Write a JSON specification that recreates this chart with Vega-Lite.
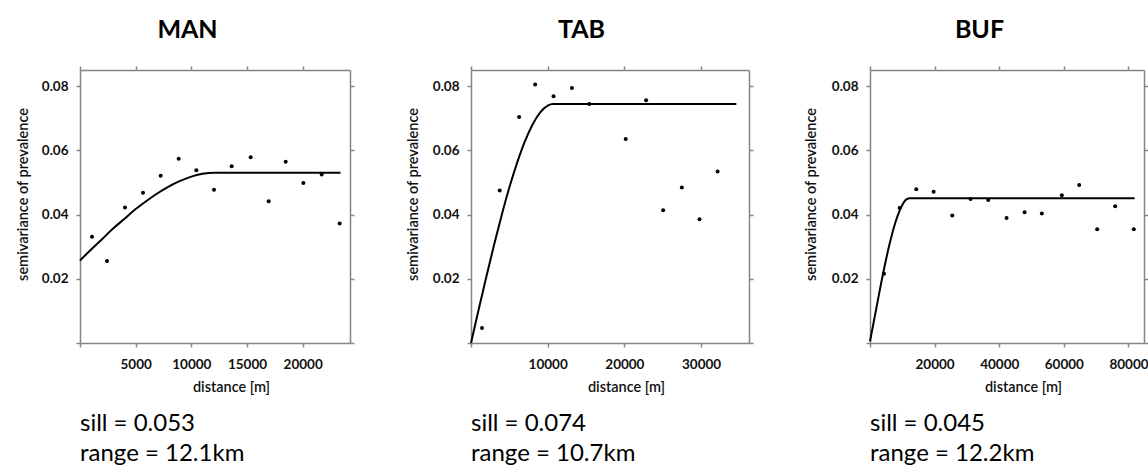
{
  "$schema": "https://vega.github.io/schema/vega-lite/v6.json",
  "padding": {"left": 14, "top": 17, "right": 0, "bottom": 0},
  "background": "white",
  "spacing": 121,
  "bounds": "flush",
  "config": {
    "view": {"stroke": null},
    "font": "Lato",
    "axis": {
      "domainColor": "#858585", "domainWidth": 1.5,
      "tickColor": "#858585", "tickWidth": 1.5, "tickSize": 4,
      "grid": false,
      "labelFont": "Lato", "labelFontSize": 13.5, "labelFontWeight": "bold", "labelColor": "#111",
      "titleFont": "Lato", "titleFontSize": 14.5, "titleFontWeight": 600, "titleColor": "#111"
    }
  },
  "datasets": {
    "man_pts": [
      {"d": 1078, "g": 0.0331}, {"d": 2425, "g": 0.0255}, {"d": 4042, "g": 0.0422},
      {"d": 5659, "g": 0.0468}, {"d": 7246, "g": 0.0521}, {"d": 8862, "g": 0.0574},
      {"d": 10449, "g": 0.0538}, {"d": 12036, "g": 0.0477}, {"d": 13623, "g": 0.055},
      {"d": 15329, "g": 0.0578}, {"d": 16946, "g": 0.0441}, {"d": 18473, "g": 0.0564},
      {"d": 20060, "g": 0.0498}, {"d": 21707, "g": 0.0525}, {"d": 23323, "g": 0.0372}
    ],
    "man_fit": [
      {"d": 0, "g": 0.0257}, {"d": 1000, "g": 0.0291}, {"d": 2000, "g": 0.0324},
      {"d": 3000, "g": 0.0357}, {"d": 4000, "g": 0.0387}, {"d": 5000, "g": 0.0417},
      {"d": 6000, "g": 0.0443}, {"d": 7000, "g": 0.0467}, {"d": 8000, "g": 0.0488},
      {"d": 9000, "g": 0.0505}, {"d": 10000, "g": 0.0518}, {"d": 11000, "g": 0.0527},
      {"d": 12100, "g": 0.053}, {"d": 23400, "g": 0.053}
    ],
    "tab_pts": [
      {"d": 1438, "g": 0.0047}, {"d": 3747, "g": 0.0475}, {"d": 6275, "g": 0.0704},
      {"d": 8366, "g": 0.0805}, {"d": 10763, "g": 0.0768}, {"d": 13159, "g": 0.0794},
      {"d": 15425, "g": 0.0744}, {"d": 20174, "g": 0.0635}, {"d": 22832, "g": 0.0756},
      {"d": 25054, "g": 0.0413}, {"d": 27495, "g": 0.0484}, {"d": 29804, "g": 0.0385},
      {"d": 32157, "g": 0.0534}
    ],
    "tab_fit": [
      {"d": 0, "g": 0}, {"d": 1000, "g": 0.0104}, {"d": 2000, "g": 0.0206},
      {"d": 3000, "g": 0.0305}, {"d": 4000, "g": 0.0398}, {"d": 5000, "g": 0.0484},
      {"d": 6000, "g": 0.056}, {"d": 7000, "g": 0.0626}, {"d": 8000, "g": 0.0679},
      {"d": 9000, "g": 0.0717}, {"d": 10000, "g": 0.0739}, {"d": 10700, "g": 0.0744},
      {"d": 34600, "g": 0.0744}
    ],
    "buf_pts": [
      {"d": 4330, "g": 0.0216}, {"d": 9175, "g": 0.042}, {"d": 14330, "g": 0.0479},
      {"d": 19690, "g": 0.0471}, {"d": 25460, "g": 0.0397}, {"d": 31130, "g": 0.0448},
      {"d": 36600, "g": 0.0445}, {"d": 42270, "g": 0.0389}, {"d": 47830, "g": 0.0407},
      {"d": 53190, "g": 0.0403}, {"d": 59380, "g": 0.046}, {"d": 64740, "g": 0.0492},
      {"d": 70310, "g": 0.0354}, {"d": 75880, "g": 0.0426}, {"d": 81650, "g": 0.0354}
    ],
    "buf_fit": [
      {"d": 0, "g": 0.0005}, {"d": 2000, "g": 0.011}, {"d": 4000, "g": 0.0214},
      {"d": 6000, "g": 0.0306}, {"d": 8000, "g": 0.038}, {"d": 10000, "g": 0.043},
      {"d": 11000, "g": 0.0445}, {"d": 12200, "g": 0.0451}, {"d": 81900, "g": 0.0451}
    ]
  },
  "hconcat": [
    {
      "width": 270, "height": 273,
      "title": {"text": ["sill = 0.053", "range = 12.1km"], "orient": "bottom", "anchor": "start", "frame": "group", "font": "Lato", "fontSize": 24, "fontWeight": "normal", "baseline": "top", "lineHeight": 30, "offset": 18, "color": "black"},
      "layer": [
        {
          "data": {"name": "man_pts"},
          "mark": {"type": "point", "filled": true, "size": 16, "color": "black", "opacity": 1},
          "encoding": {
            "x": {"field": "d", "type": "quantitative", "scale": {"domain": [0, 24250], "nice": false, "zero": false},
              "axis": {"orient": "bottom", "values": [0, 5000, 10000, 15000, 20000], "format": "d", "labelExpr": "datum.value == 0 ? '' : datum.label", "labelPadding": 10, "title": "distance [m]", "titleX": 151, "titleY": 48, "titleBaseline": "alphabetic", "titleAlign": "center"}},
            "y": {"field": "g", "type": "quantitative", "scale": {"domain": [0, 0.085], "nice": false, "zero": false},
              "axis": {"orient": "left", "values": [0, 0.02, 0.04, 0.06, 0.08], "format": ".2f", "labelExpr": "datum.value == 0 ? '' : datum.label", "labelPadding": 8, "title": "semivariance of prevalence", "titleX": -57, "titleY": 124, "titleAngle": -90, "titleBaseline": "middle", "titleAlign": "center"}}
          }
        },
        {
          "data": {"name": "man_fit"},
          "mark": {"type": "line", "color": "black", "strokeWidth": 2, "interpolate": "monotone"},
          "encoding": {
            "x": {"field": "d", "type": "quantitative", "scale": {"domain": [0, 24250], "nice": false, "zero": false},
              "axis": {"orient": "top", "values": [0, 5000, 10000, 15000, 20000], "labels": false, "title": "MAN", "titleFontSize": 25, "titleFontWeight": "bold", "titleColor": "black", "titleX": 107, "titleY": -33, "titleBaseline": "alphabetic", "titleAlign": "center"}},
            "y": {"field": "g", "type": "quantitative", "scale": {"domain": [0, 0.085], "nice": false, "zero": false},
              "axis": {"orient": "right", "values": [0, 0.02, 0.04, 0.06, 0.08], "labels": false, "title": null}}
          }
        }
      ]
    },
    {
      "width": 278, "height": 273,
      "title": {"text": ["sill = 0.074", "range = 10.7km"], "orient": "bottom", "anchor": "start", "frame": "group", "font": "Lato", "fontSize": 24, "fontWeight": "normal", "baseline": "top", "lineHeight": 30, "offset": 18, "color": "black"},
      "layer": [
        {
          "data": {"name": "tab_pts"},
          "mark": {"type": "point", "filled": true, "size": 16, "color": "black", "opacity": 1},
          "encoding": {
            "x": {"field": "d", "type": "quantitative", "scale": {"domain": [0, 36250], "nice": false, "zero": false},
              "axis": {"orient": "bottom", "values": [0, 10000, 20000, 30000], "format": "d", "labelExpr": "datum.value == 0 ? '' : datum.label", "labelPadding": 10, "title": "distance [m]", "titleX": 155, "titleY": 48, "titleBaseline": "alphabetic", "titleAlign": "center"}},
            "y": {"field": "g", "type": "quantitative", "scale": {"domain": [0, 0.085], "nice": false, "zero": false},
              "axis": {"orient": "left", "values": [0, 0.02, 0.04, 0.06, 0.08], "format": ".2f", "labelExpr": "datum.value == 0 ? '' : datum.label", "labelPadding": 8, "title": "semivariance of prevalence", "titleX": -58, "titleY": 124, "titleAngle": -90, "titleBaseline": "middle", "titleAlign": "center"}}
          }
        },
        {
          "data": {"name": "tab_fit"},
          "mark": {"type": "line", "color": "black", "strokeWidth": 2, "interpolate": "monotone"},
          "encoding": {
            "x": {"field": "d", "type": "quantitative", "scale": {"domain": [0, 36250], "nice": false, "zero": false},
              "axis": {"orient": "top", "values": [0, 10000, 20000, 30000], "labels": false, "title": "TAB", "titleFontSize": 25, "titleFontWeight": "bold", "titleColor": "black", "titleX": 110, "titleY": -33, "titleBaseline": "alphabetic", "titleAlign": "center"}},
            "y": {"field": "g", "type": "quantitative", "scale": {"domain": [0, 0.085], "nice": false, "zero": false},
              "axis": {"orient": "right", "values": [0, 0.02, 0.04, 0.06, 0.08], "labels": false, "title": null}}
          }
        }
      ]
    },
    {
      "width": 274, "height": 273,
      "title": {"text": ["sill = 0.045", "range = 12.2km"], "orient": "bottom", "anchor": "start", "frame": "group", "font": "Lato", "fontSize": 24, "fontWeight": "normal", "baseline": "top", "lineHeight": 30, "offset": 18, "color": "black"},
      "layer": [
        {
          "data": {"name": "buf_pts"},
          "mark": {"type": "point", "filled": true, "size": 16, "color": "black", "opacity": 1},
          "encoding": {
            "x": {"field": "d", "type": "quantitative", "scale": {"domain": [0, 84800], "nice": false, "zero": false},
              "axis": {"orient": "bottom", "values": [0, 20000, 40000, 60000, 80000], "format": "d", "labelExpr": "datum.value == 0 ? '' : datum.label", "labelPadding": 10, "title": "distance [m]", "titleX": 153, "titleY": 48, "titleBaseline": "alphabetic", "titleAlign": "center"}},
            "y": {"field": "g", "type": "quantitative", "scale": {"domain": [0, 0.085], "nice": false, "zero": false},
              "axis": {"orient": "left", "values": [0, 0.02, 0.04, 0.06, 0.08], "format": ".2f", "labelExpr": "datum.value == 0 ? '' : datum.label", "labelPadding": 8, "title": "semivariance of prevalence", "titleX": -59, "titleY": 124, "titleAngle": -90, "titleBaseline": "middle", "titleAlign": "center"}}
          }
        },
        {
          "data": {"name": "buf_fit"},
          "mark": {"type": "line", "color": "black", "strokeWidth": 2, "interpolate": "monotone"},
          "encoding": {
            "x": {"field": "d", "type": "quantitative", "scale": {"domain": [0, 84800], "nice": false, "zero": false},
              "axis": {"orient": "top", "values": [0, 20000, 40000, 60000, 80000], "labels": false, "title": "BUF", "titleFontSize": 25, "titleFontWeight": "bold", "titleColor": "black", "titleX": 109, "titleY": -33, "titleBaseline": "alphabetic", "titleAlign": "center"}},
            "y": {"field": "g", "type": "quantitative", "scale": {"domain": [0, 0.085], "nice": false, "zero": false},
              "axis": {"orient": "right", "values": [0, 0.02, 0.04, 0.06, 0.08], "labels": false, "title": null}}
          }
        }
      ]
    }
  ]
}
